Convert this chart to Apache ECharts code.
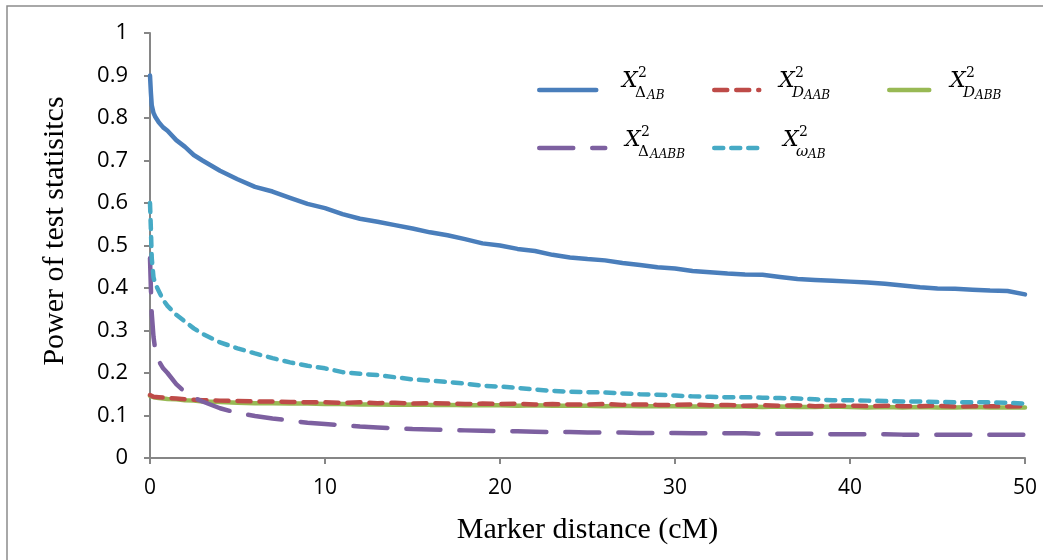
<!DOCTYPE html>
<html>
<head>
<meta charset="utf-8">
<title>Power of test statistics</title>
<script src="https://cdn.jsdelivr.net/npm/echarts@6/dist/echarts.min.js"></script>
<style>
	html, body { margin: 0; padding: 0; background: #fff; }
	#main { width: 1043px; height: 560px; }
</style>
</head>
<body>
	<div id="main"></div>
	<script type="text/javascript">
		// marker distance (cM)
		var distances = [0, 0.05, 0.1, 0.2, 0.3, 0.5, 0.75, 1, 1.5, 2, 2.5,
			3, 4, 5, 6, 7, 8, 9, 10, 11, 12, 13, 14, 15, 16, 17, 18, 19, 20,
			21, 22, 23, 24, 25, 26, 27, 28, 29, 30, 31, 32, 33, 34, 35, 36, 37, 38, 39, 40,
			41, 42, 43, 44, 45, 46, 47, 48, 49, 50];

		var deltaAB = [0.900, 0.860, 0.830, 0.812, 0.803, 0.790, 0.778, 0.770, 0.748, 0.732, 0.713,
			0.700, 0.676, 0.656, 0.638, 0.627, 0.612, 0.598, 0.588, 0.574, 0.563, 0.556, 0.548, 0.540, 0.531, 0.524, 0.515, 0.505, 0.500,
			0.492, 0.487, 0.478, 0.472, 0.468, 0.465, 0.459, 0.454, 0.449, 0.446, 0.440, 0.437, 0.434, 0.432, 0.431, 0.426, 0.421, 0.419, 0.417, 0.415,
			0.413, 0.410, 0.406, 0.402, 0.399, 0.398, 0.396, 0.394, 0.393, 0.385];

		var dAAB = [0.148, 0.146, 0.145, 0.144, 0.144, 0.143, 0.142, 0.141, 0.140, 0.138, 0.137,
			0.136, 0.135, 0.134, 0.133, 0.133, 0.132, 0.131, 0.131, 0.130, 0.131, 0.129, 0.130, 0.128, 0.129, 0.128, 0.127, 0.128, 0.127,
			0.128, 0.126, 0.127, 0.126, 0.126, 0.127, 0.125, 0.126, 0.125, 0.125, 0.126, 0.124, 0.125, 0.123, 0.124, 0.123, 0.124, 0.122, 0.123, 0.123,
			0.122, 0.123, 0.122, 0.122, 0.123, 0.121, 0.122, 0.122, 0.121, 0.122];

		var dABB = [0.146, 0.145, 0.144, 0.143, 0.142, 0.141, 0.140, 0.139, 0.138, 0.136, 0.135,
			0.133, 0.132, 0.130, 0.129, 0.129, 0.128, 0.128, 0.127, 0.127, 0.126, 0.126, 0.125, 0.126, 0.125, 0.125, 0.124, 0.124, 0.124,
			0.123, 0.124, 0.123, 0.123, 0.123, 0.122, 0.123, 0.122, 0.122, 0.122, 0.121, 0.121, 0.122, 0.121, 0.120, 0.121, 0.120, 0.120, 0.121, 0.120,
			0.119, 0.120, 0.119, 0.120, 0.119, 0.119, 0.120, 0.119, 0.119, 0.119];

		var deltaAABB = [0.470, 0.400, 0.340, 0.285, 0.255, 0.228, 0.211, 0.200, 0.174, 0.155, 0.142,
			0.133, 0.117, 0.106, 0.099, 0.093, 0.088, 0.083, 0.080, 0.077, 0.074, 0.072, 0.070, 0.068, 0.067, 0.066, 0.065, 0.064, 0.063,
			0.063, 0.062, 0.061, 0.061, 0.060, 0.060, 0.060, 0.059, 0.059, 0.059, 0.058, 0.058, 0.058, 0.058, 0.057, 0.057, 0.057, 0.057, 0.056, 0.056,
			0.056, 0.056, 0.055, 0.055, 0.055, 0.055, 0.055, 0.055, 0.055, 0.055];

		var omegaAB = [0.600, 0.540, 0.470, 0.425, 0.410, 0.393, 0.372, 0.358, 0.337, 0.321, 0.305,
			0.292, 0.272, 0.258, 0.246, 0.235, 0.225, 0.217, 0.211, 0.202, 0.198, 0.195, 0.190, 0.185, 0.182, 0.179, 0.175, 0.170, 0.168,
			0.165, 0.161, 0.158, 0.156, 0.155, 0.154, 0.152, 0.150, 0.149, 0.147, 0.145, 0.144, 0.143, 0.143, 0.142, 0.141, 0.140, 0.138, 0.136, 0.136,
			0.135, 0.134, 0.133, 0.133, 0.132, 0.131, 0.131, 0.131, 0.130, 0.128];

		var seriesNames = ['ΔAB', 'DAAB', 'DABB', 'ΔAABB', 'ωAB'];
		var seriesColors = ['#4a7ebb', '#be4b48', '#98b954', '#7d60a0', '#46aac5'];

		function pairs(ys) {
			var out = [];
			for (var i = 0; i < distances.length; i++) {
				out.push([distances[i], ys[i]]);
			}
			return out;
		}

		function lineSeries(i, ys, dash, z) {
			return {
				name: seriesNames[i],
				type: 'line',
				data: pairs(ys),
				symbol: 'none',
				showSymbol: false,
				z: z,
				lineStyle: { color: seriesColors[i], width: 4.5, type: dash, cap: 'round', join: 'round' },
				itemStyle: { color: seriesColors[i] }
			};
		}

		function legendItem(i, left, top, w) {
			return {
				data: [seriesNames[i]],
				left: left,
				top: top,
				padding: 0,
				itemWidth: w,
				itemHeight: 14,
				selectedMode: false,
				formatter: function () { return ''; },
				itemStyle: { opacity: 0, borderWidth: 0 },
				lineStyle: { width: 4.5, opacity: 1 }
			};
		}

		// math legend labels: X^2 with subscript
		var mathFont = '"DejaVu Serif", "Liberation Serif", serif';
		function mathLabel(x, y, sub, subsub, subItalic) {
			var base = { fill: '#000', verticalAlign: 'middle', align: 'left' };
			return {
				type: 'group',
				children: [
					{ type: 'text', x: x, y: y, style: Object.assign({ text: 'X', font: 'italic 22px ' + mathFont }, base) },
					{ type: 'text', x: x + 16, y: y - 8, style: Object.assign({ text: '2', font: '14px ' + mathFont }, base) },
					{ type: 'text', x: x + 13, y: y + 12, style: Object.assign({ text: sub, font: (subItalic ? 'italic ' : '') + '15px ' + mathFont }, base) },
					{ type: 'text', x: x + 25, y: y + 15, style: Object.assign({ text: subsub, font: 'italic 12px ' + mathFont }, base) }
				]
			};
		}

		var myChart = echarts.init(document.getElementById('main'));

		var option = {
			backgroundColor: '#fff',
			animation: false,
			grid: { left: 150, right: 18, top: 33, bottom: 102 },
			legend: [
				legendItem(0, 537, 83, 57),
				legendItem(1, 712, 83, 45),
				legendItem(2, 887, 83, 40),
				legendItem(3, 537, 141, 66),
				legendItem(4, 712, 141, 45)
			],
			xAxis: {
				type: 'value',
				min: 0,
				max: 50,
				interval: 10,
				name: 'Marker distance (cM)',
				nameLocation: 'middle',
				nameGap: 57,
				nameTextStyle: { fontFamily: 'Liberation Serif', fontSize: 30, color: '#000' },
				axisLine: { lineStyle: { color: '#868686', width: 2 } },
				axisTick: { length: 6, lineStyle: { color: '#868686', width: 2 } },
				axisLabel: { margin: 20, fontFamily: 'Open Sans', fontSize: 21, color: '#000' },
				splitLine: { show: false }
			},
			yAxis: {
				type: 'value',
				min: 0,
				max: 1,
				interval: 0.1,
				name: 'Power of test statisitcs',
				nameLocation: 'middle',
				nameGap: 80,
				nameRotate: 90,
				nameTextStyle: { fontFamily: 'Liberation Serif', fontSize: 30, color: '#000', padding: [0, 0, 0, 29] },
				axisLine: { show: true, lineStyle: { color: '#868686', width: 2 } },
				axisTick: { show: true, length: 6, lineStyle: { color: '#868686', width: 2 } },
				axisLabel: { margin: 22, fontFamily: 'Open Sans', fontSize: 22, color: '#000' },
				splitLine: { show: false }
			},
			graphic: [
				{ type: 'rect', shape: { x: 7, y: 6, width: 1100, height: 600 }, style: { fill: 'none', stroke: '#8c8c8c', lineWidth: 1.5 }, z: -1, silent: true },
				mathLabel(622, 81, 'Δ', 'AB', false),
				mathLabel(779, 81, 'D', 'AAB', true),
				mathLabel(950, 81, 'D', 'ABB', true),
				mathLabel(625, 140, 'Δ', 'AABB', false),
				mathLabel(783, 140, 'ω', 'AB', true)
			],
			series: [
				lineSeries(0, deltaAB, 'solid', 5),
				lineSeries(1, dAAB, [13, 9], 4),
				lineSeries(2, dABB, 'solid', 3),
				lineSeries(3, deltaAABB, [34, 19], 6),
				lineSeries(4, omegaAB, [9, 8], 7)
			]
		};

		myChart.setOption(option);
	</script>
</body>
</html>
